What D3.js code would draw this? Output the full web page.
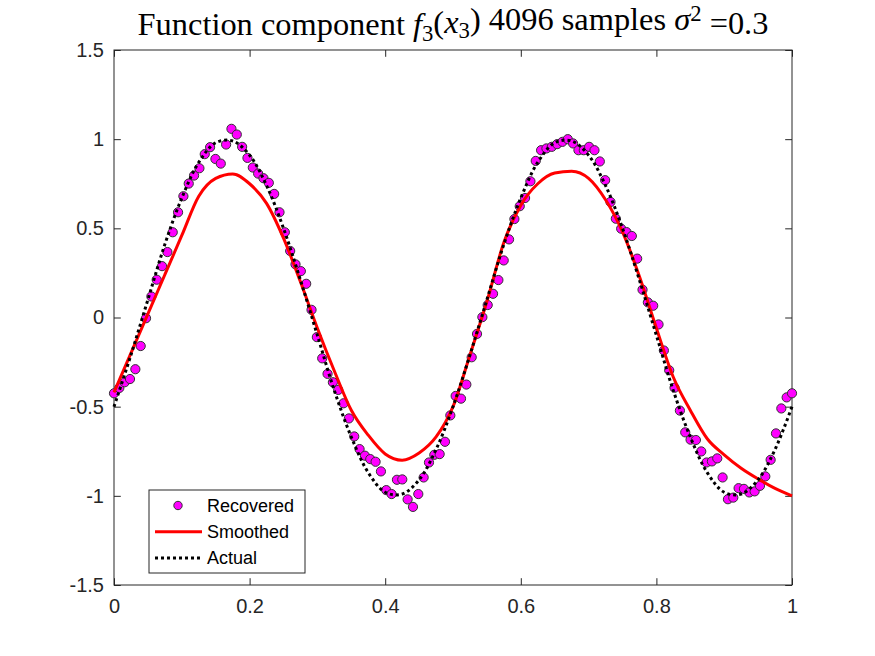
<!DOCTYPE html>
<html>
<head>
<meta charset="utf-8">
<script src="https://cdn.jsdelivr.net/npm/d3@7"></script>
<style>
  html, body { margin: 0; padding: 0; background: #fff; }
  svg { display: block; }
</style>
</head>
<body>
<script>
// recovered samples, 128 points evenly spaced on [0,1]
var recovered = [
  -0.425, -0.395, -0.363, -0.345, -0.29, -0.16, -0.004, 0.118, 0.212, 0.288,
  0.367, 0.478, 0.59, 0.68, 0.751, 0.796, 0.837, 0.916, 0.955, 0.889,
  0.863, 0.97, 1.058, 1.026, 0.957, 0.895, 0.841, 0.807, 0.781, 0.755,
  0.693, 0.59, 0.478, 0.373, 0.298, 0.26, 0.189, 0.043, -0.11, -0.229,
  -0.316, -0.363, -0.406, -0.481, -0.566, -0.667, -0.738, -0.775, -0.794, -0.809,
  -0.863, -0.968, -0.99, -0.91, -0.908, -1.02, -1.062, -0.99, -0.897, -0.813,
  -0.77, -0.766, -0.697, -0.549, -0.44, -0.455, -0.376, -0.223, -0.092, 0.002,
  0.07, 0.133, 0.21, 0.32, 0.438, 0.552, 0.624, 0.67, 0.764, 0.878,
  0.938, 0.948, 0.957, 0.972, 0.985, 1.0, 0.976, 0.938, 0.938, 0.957,
  0.938, 0.875, 0.77, 0.648, 0.554, 0.498, 0.479, 0.457, 0.33, 0.156,
  0.085, 0.066, -0.039, -0.185, -0.296, -0.394, -0.522, -0.644, -0.685, -0.687,
  -0.751, -0.813, -0.807, -0.79, -0.897, -1.019, -1.01, -0.957, -0.961, -0.981,
  -0.975, -0.944, -0.891, -0.798, -0.65, -0.51, -0.448, -0.425
];

// smoothed and actual curves, read every 0.025 on [0,1]
var smoothed = [
  -0.42, -0.20, 0.02, 0.24, 0.46, 0.68, 0.78, 0.805, 0.75, 0.64,
  0.445, 0.20, -0.06, -0.30, -0.52, -0.66, -0.765, -0.80, -0.76, -0.67,
  -0.50, -0.21, 0.09, 0.42, 0.63, 0.75, 0.81, 0.82, 0.78, 0.66,
  0.48, 0.23, -0.06, -0.335, -0.52, -0.68, -0.77, -0.845, -0.905, -0.958,
  -1.0
];
var actual = [
  -0.50, -0.21, 0.10, 0.41, 0.67, 0.87, 0.98, 0.99, 0.91, 0.74,
  0.50, 0.21, -0.10, -0.41, -0.67, -0.87, -0.98, -0.99, -0.91, -0.74,
  -0.50, -0.21, 0.10, 0.41, 0.67, 0.87, 0.98, 0.99, 0.91, 0.74,
  0.50, 0.21, -0.10, -0.41, -0.67, -0.87, -0.98, -0.99, -0.91, -0.74,
  -0.50
];

var xTicks = [0, 0.2, 0.4, 0.6, 0.8, 1];
var yTicks = [-1.5, -1, -0.5, 0, 0.5, 1, 1.5];
var legendLabels = ["Recovered", "Smoothed", "Actual"];

var W = 875, H = 656;
var margin = {top: 50, right: 83, bottom: 71, left: 114},
    width = W - margin.left - margin.right,
    height = H - margin.top - margin.bottom;

var axisColor = "#262626";
var fontFam = "'Liberation Sans', Arial, Helvetica, sans-serif";

var svg = d3.select("body").append("svg")
    .attr("width", W)
    .attr("height", H);

var g = svg.append("g")
    .attr("transform", "translate(" + margin.left + "," + margin.top + ")");

var x = d3.scaleLinear().domain([0, 1]).range([0, width]);
var y = d3.scaleLinear().domain([-1.5, 1.5]).range([height, 0]);

var recX = d3.range(recovered.length).map(function(i) { return i / (recovered.length - 1); });
var gridX = d3.range(smoothed.length).map(function(i) { return i / (smoothed.length - 1); });

// axes, ticks point inward like matlab
var tickLen = 6.8;
function styleAxis(sel, showText) {
  sel.select(".domain").remove();
  sel.selectAll(".tick line").attr("stroke", axisColor).attr("stroke-width", 1);
  sel.selectAll(".tick text")
    .attr("fill", axisColor)
    .style("font-family", fontFam)
    .style("font-size", "20px");
  if (!showText) sel.selectAll(".tick text").remove();
}
function plain(d) { return String(d); }  // keep hyphen minus like the original

g.append("g")
    .attr("transform", "translate(0," + height + ")")
    .call(d3.axisBottom(x).tickValues(xTicks).tickSizeInner(-tickLen).tickSizeOuter(0).tickPadding(14)
      .tickFormat(plain))
    .call(styleAxis, true);

g.append("g")
    .call(d3.axisTop(x).tickValues(xTicks).tickSizeInner(-tickLen).tickSizeOuter(0))
    .call(styleAxis, false);

g.append("g")
    .call(d3.axisLeft(y).tickValues(yTicks).tickSizeInner(-tickLen).tickSizeOuter(0).tickPadding(10)
      .tickFormat(plain))
    .call(styleAxis, true);

g.append("g")
    .attr("transform", "translate(" + width + ",0)")
    .call(d3.axisRight(y).tickValues(yTicks).tickSizeInner(-tickLen).tickSizeOuter(0))
    .call(styleAxis, false);

// box
g.append("rect")
    .attr("x", 0).attr("y", 0)
    .attr("width", width).attr("height", height)
    .attr("fill", "none")
    .attr("stroke", axisColor)
    .attr("stroke-width", 1);

// recovered points
g.selectAll(".pt")
    .data(recovered)
    .enter().append("circle")
    .attr("class", "pt")
    .attr("cx", function(d, i) { return x(recX[i]); })
    .attr("cy", function(d) { return y(d); })
    .attr("r", 4.6)
    .attr("fill", "#ff00ff")
    .attr("stroke", "#333")
    .attr("stroke-width", 1);

// smoothed
var smoothLine = d3.line()
    .x(function(d, i) { return x(gridX[i]); })
    .y(function(d) { return y(d); })
    .curve(d3.curveMonotoneX);

g.append("path")
    .datum(smoothed)
    .attr("d", smoothLine)
    .attr("fill", "none")
    .attr("stroke", "#ff0000")
    .attr("stroke-width", 3);

// actual
var actualLine = d3.line()
    .x(function(d, i) { return x(gridX[i]); })
    .y(function(d) { return y(d); })
    .curve(d3.curveCatmullRom.alpha(0.5));

g.append("path")
    .datum(actual)
    .attr("d", actualLine)
    .attr("fill", "none")
    .attr("stroke", "#000")
    .attr("stroke-width", 3)
    .attr("stroke-dasharray", "3,3");

// legend
var lg = svg.append("g").attr("transform", "translate(149,490)");
lg.append("rect")
    .attr("width", 156).attr("height", 83)
    .attr("fill", "#fff")
    .attr("stroke", axisColor)
    .attr("stroke-width", 1);

var rows = lg.selectAll(".row")
    .data(legendLabels)
    .enter().append("g")
    .attr("transform", function(d, i) { return "translate(0," + (15.5 + i * 26.2) + ")"; });

rows.append("text")
    .attr("x", 58)
    .attr("dy", "0.35em")
    .style("font-family", fontFam)
    .style("font-size", "18px")
    .attr("fill", "#000")
    .text(function(d) { return d; });

rows.filter(function(d, i) { return i === 0; })
  .append("circle")
    .attr("cx", 29).attr("r", 4.2)
    .attr("fill", "#ff00ff")
    .attr("stroke", "#333")
    .attr("stroke-width", 1);

rows.filter(function(d, i) { return i === 1; })
  .append("line")
    .attr("x1", 6).attr("x2", 53)
    .attr("stroke", "#ff0000").attr("stroke-width", 3);

rows.filter(function(d, i) { return i === 2; })
  .append("line")
    .attr("x1", 6).attr("x2", 53)
    .attr("stroke", "#000").attr("stroke-width", 3)
    .attr("stroke-dasharray", "3,3");

// title (latex-ish)
var title = svg.append("text")
    .attr("x", margin.left + width / 2)
    .attr("y", 35)
    .attr("text-anchor", "middle")
    .style("font-family", "'Liberation Serif', 'Times New Roman', serif")
    .style("font-size", "24px")
    .attr("fill", "#000");

title.append("tspan").text("Function component ");
title.append("tspan").style("font-style", "italic").text("f");
title.append("tspan").attr("dy", "0.25em").style("font-size", "0.7em").text("3");
title.append("tspan").attr("dy", "-0.25em").text("(");
title.append("tspan").style("font-style", "italic").text("x");
title.append("tspan").attr("dy", "0.25em").style("font-size", "0.7em").text("3");
title.append("tspan").attr("dy", "-0.25em").text(") 4096 samples ");
title.append("tspan").style("font-style", "italic").text("\u03c3");
title.append("tspan").attr("dy", "-0.42em").style("font-size", "0.7em").text("2");
title.append("tspan").attr("dy", "0.42em").text(" =0.3");

// fit title to the width it has in the picture
var tl = title.node().getComputedTextLength();
if (tl > 0) title.style("font-size", (24 * 631 / tl) + "px");
</script>
</body>
</html>
